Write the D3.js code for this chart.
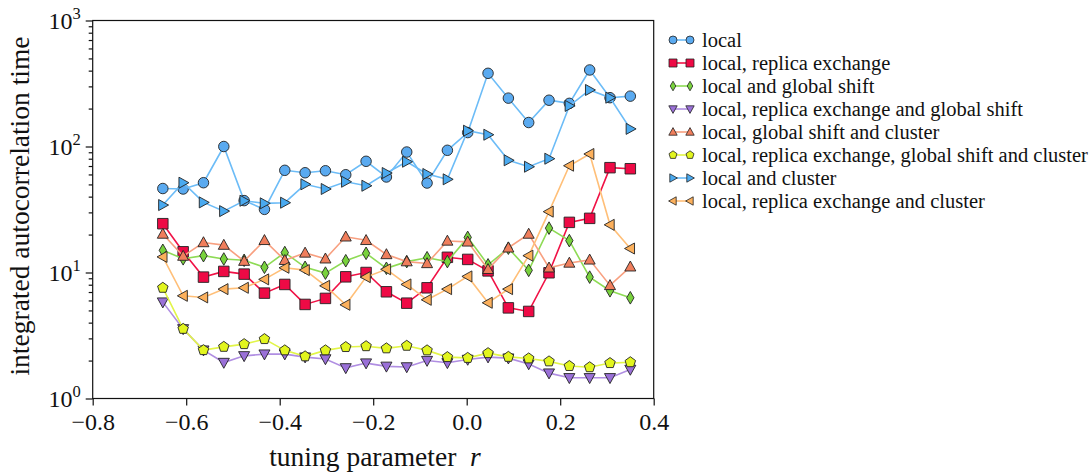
<!DOCTYPE html>
<html>
<head>
<meta charset="utf-8">
<script src="https://cdn.jsdelivr.net/npm/d3@7"></script>
<style>
  html, body { margin: 0; padding: 0; background: #fff; }
  svg { display: block; }
</style>
</head>
<body>
<svg id="chart" width="1092" height="473"></svg>
<script>
// tuning parameter r: 24 evenly spaced runs from -0.65 to 0.35
const rValues = d3.range(24).map(i => -0.65 + i / 23);

const seriesNames = [
  "local",
  "local, replica exchange",
  "local and global shift",
  "local, replica exchange and global shift",
  "local, global shift and cluster",
  "local, replica exchange, global shift and cluster",
  "local and cluster",
  "local, replica exchange and cluster"
];

// integrated autocorrelation time for each update scheme
const tauLocal = [46.4, 46.0, 51.6, 100, 37.2, 31.7, 64.7, 61.9, 64.2, 59.7, 76.3, 57.3,
                  90.4, 51.3, 93.3, 129, 381, 242, 155, 233, 220, 405, 244, 251];
const tauReplica = [24.4, 14.6, 9.19, 10.2, 9.71, 6.86, 8.04, 5.58, 6.23, 9.24, 10.0, 7.03,
                    5.71, 7.56, 13.2, 12.7, 10.3, 5.24, 4.91, 9.95, 25.0, 26.9, 67.9, 66.6];
const tauGlobal = [15.0, 12.85, 13.6, 12.8, 12.5, 11.0, 14.4, 11.0, 9.89, 12.4, 14.2, 10.8,
                   12.2, 13.1, 12.2, 19.0, 11.5, 15.6, 10.4, 22.5, 17.9, 9.19, 7.16, 6.30];
const tauReplicaGlobal = [5.82, 3.57, 2.42, 1.93, 2.18, 2.25, 2.25, 2.13, 2.06, 1.75, 1.91, 1.80,
                          1.78, 2.00, 1.92, 2.04, 2.13, 2.09, 1.88, 1.59, 1.46, 1.46, 1.46, 1.70];
const tauGlobalCluster = [20.2, 13.5, 17.3, 16.5, 12.3, 18.0, 12.5, 14.3, 12.85, 19.2, 18.0, 13.9,
                          12.2, 11.8, 17.8, 17.5, 10.6, 15.7, 20.2, 10.9, 11.9, 12.6, 7.90, 11.1];
const tauAll = [7.56, 3.57, 2.42, 2.57, 2.70, 2.96, 2.41, 2.16, 2.41, 2.56, 2.60, 2.50,
                2.62, 2.41, 2.13, 2.10, 2.29, 2.14, 2.08, 1.97, 1.81, 1.77, 1.91, 1.94];
const tauCluster = [34.3, 51.6, 36.0, 30.7, 37.1, 35.4, 35.8, 50.1, 46.0, 52.5, 48.8, 61.6,
                    75.7, 60.5, 54.9, 133.5, 124, 77.7, 69.1, 80.0, 210, 281, 244, 138];
const tauReplicaCluster = [13.3, 6.53, 6.34, 7.38, 7.56, 8.82, 10.9, 10.45, 7.84, 5.54, 9.19, 10.6,
                           8.04, 6.07, 7.38, 9.31, 5.75, 7.38, 13.6, 30.4, 70.4, 87.2, 23.9, 15.5];

const xTicks = [-0.8, -0.6, -0.4, -0.2, 0.0, 0.2, 0.4];
const yTickExponents = [0, 1, 2, 3];

const seriesValues = [tauLocal, tauReplica, tauGlobal, tauReplicaGlobal,
                      tauGlobalCluster, tauAll, tauCluster, tauReplicaCluster];
const markerFills = ["#5aaaf0", "#ee0a45", "#78d23c", "#9a70d8", "#f07e5c", "#e2f51e", "#4aaaf0", "#fcb05c"];
const lineColors  = ["#6cbcf7", "#f01246", "#8edb55", "#b08ee2", "#f8a080", "#e2f548", "#6cbcf7", "#ffbf78"];
const markerShapes = ["circle", "square", "diamond", "triDown", "triUp", "pentagon", "triRight", "triLeft"];

const FONT = "'Liberation Serif', 'Times New Roman', Times, 'DejaVu Serif', serif";

const svg = d3.select("#chart")
  .attr("font-family", FONT);
const plot = { left: 92.7, right: 653.7, top: 20.5, bottom: 398.5 };

const x = d3.scaleLinear().domain([-0.8, 0.4]).range([plot.left, plot.right]);
const y = d3.scaleLog().domain([1, 1000]).range([plot.bottom, plot.top]);

// marker outline as a path around (0,0); s = nominal size in px
function markerPath(shape, s) {
  const h = s / 2;
  const poly = pts => "M" + pts.map(p => p[0].toFixed(2) + "," + p[1].toFixed(2)).join("L") + "Z";
  switch (shape) {
    case "circle":
      return `M${h},0A${h},${h} 0 1,1 ${-h},0A${h},${h} 0 1,1 ${h},0Z`;
    case "square":
      return poly([[-h, -h], [h, -h], [h, h], [-h, h]]);
    case "diamond":
      return poly([[0, -h * 1.2], [h * 0.7, 0], [0, h * 1.2], [-h * 0.7, 0]]);
    case "triUp":
      return poly([[0, -h * 1.1], [h * 1.05, h * 0.8], [-h * 1.05, h * 0.8]]);
    case "triDown":
      return poly([[0, h * 1.1], [h * 1.05, -h * 0.8], [-h * 1.05, -h * 0.8]]);
    case "triRight":
      return poly([[h * 1.1, 0], [-h * 0.8, h * 1.05], [-h * 0.8, -h * 1.05]]);
    case "triLeft":
      return poly([[-h * 1.1, 0], [h * 0.8, h * 1.05], [h * 0.8, -h * 1.05]]);
    case "pentagon":
      return poly(d3.range(5).map(k => {
        const a = -Math.PI / 2 + k * 2 * Math.PI / 5;
        return [Math.cos(a) * h * 1.05, Math.sin(a) * h * 1.05];
      }));
  }
}

// x axis
const gX = svg.append("g").attr("transform", `translate(0,${plot.bottom})`)
  .call(d3.axisBottom(x).tickValues(xTicks).tickSize(7).tickSizeOuter(0)
        .tickFormat(d => d3.format(".1f")(d).replace("-", "\u2212")));
gX.attr("font-family", FONT);
gX.select(".domain").remove();
gX.selectAll("line").attr("stroke", "#111").attr("stroke-width", 1.2);
gX.selectAll("text").attr("font-size", 24).attr("dy", "0.9em")
  .attr("font-family", FONT).attr("fill", "#111");

// y axis: major decades plus minor ticks
const majorY = yTickExponents.map(e => Math.pow(10, e));
const minorY = [];
for (let e = 0; e < 3; e++) for (let m = 2; m <= 9; m++) minorY.push(m * Math.pow(10, e));

const gY = svg.append("g").attr("transform", `translate(${plot.left},0)`);
gY.call(d3.axisLeft(y).tickValues(minorY).tickSize(4).tickFormat(""));
gY.append("g").call(d3.axisLeft(y).tickValues(majorY).tickSize(7).tickFormat(""));
gY.selectAll(".domain").remove();
gY.selectAll("line").attr("stroke", "#111").attr("stroke-width", 1.2);

const yLabels = svg.append("g");
yTickExponents.forEach(e => {
  const t = yLabels.append("text")
    .attr("x", plot.left - 12)
    .attr("y", y(Math.pow(10, e)) + 8)
    .attr("text-anchor", "end")
    .attr("font-family", FONT)
    .attr("fill", "#111")
    .attr("font-size", 24);
  t.append("tspan").text("10");
  t.append("tspan").attr("dy", -10).attr("font-size", 16.5).text(String(e));
});

svg.append("rect")
  .attr("x", plot.left).attr("y", plot.top)
  .attr("width", plot.right - plot.left).attr("height", plot.bottom - plot.top)
  .attr("fill", "none").attr("stroke", "#111").attr("stroke-width", 1.2);

// axis titles
svg.append("text")
  .attr("x", 375)
  .attr("y", 466)
  .attr("text-anchor", "middle")
  .attr("font-family", FONT)
  .attr("fill", "#111")
  .attr("font-size", 27.5)
  .html('tuning parameter&#160;&#160;<tspan font-style="italic">r</tspan>');

svg.append("text")
  .attr("transform", `translate(29,206) rotate(-90)`)
  .attr("text-anchor", "middle")
  .attr("font-family", FONT)
  .attr("fill", "#111")
  .attr("font-size", 27.5)
  .text("integrated autocorrelation time");

// data series
const line = d3.line().x((d, i) => x(rValues[i])).y(d => y(d));
const seriesG = svg.append("g");
seriesValues.forEach((vals, k) => {
  const g = seriesG.append("g");
  g.append("path").datum(vals)
    .attr("d", line)
    .attr("fill", "none")
    .attr("stroke", lineColors[k])
    .attr("stroke-width", 1.6);
  g.selectAll("path.marker").data(vals).join("path")
    .attr("class", "marker")
    .attr("transform", (d, i) => `translate(${x(rValues[i])},${y(d)})`)
    .attr("d", markerPath(markerShapes[k], 10.5))
    .attr("fill", markerFills[k])
    .attr("stroke", "#222")
    .attr("stroke-width", 0.9);
});

// legend
const legend = svg.append("g").attr("transform", "translate(673,40)");
seriesNames.forEach((name, k) => {
  const row = legend.append("g").attr("transform", `translate(0,${k * 23})`);
  row.append("line").attr("x1", 0).attr("x2", 17).attr("y1", 0).attr("y2", 0)
    .attr("stroke", lineColors[k]).attr("stroke-width", 1.6);
  [0, 17].forEach(dx => {
    row.append("path")
      .attr("transform", `translate(${dx},0)`)
      .attr("d", markerPath(markerShapes[k], 8))
      .attr("fill", markerFills[k])
      .attr("stroke", "#222")
      .attr("stroke-width", 0.8);
  });
  row.append("text")
    .attr("x", 29).attr("y", 6.5)
    .attr("font-family", FONT)
    .attr("fill", "#111")
    .attr("font-size", 20.5)
    .text(name);
});
</script>
</body>
</html>
